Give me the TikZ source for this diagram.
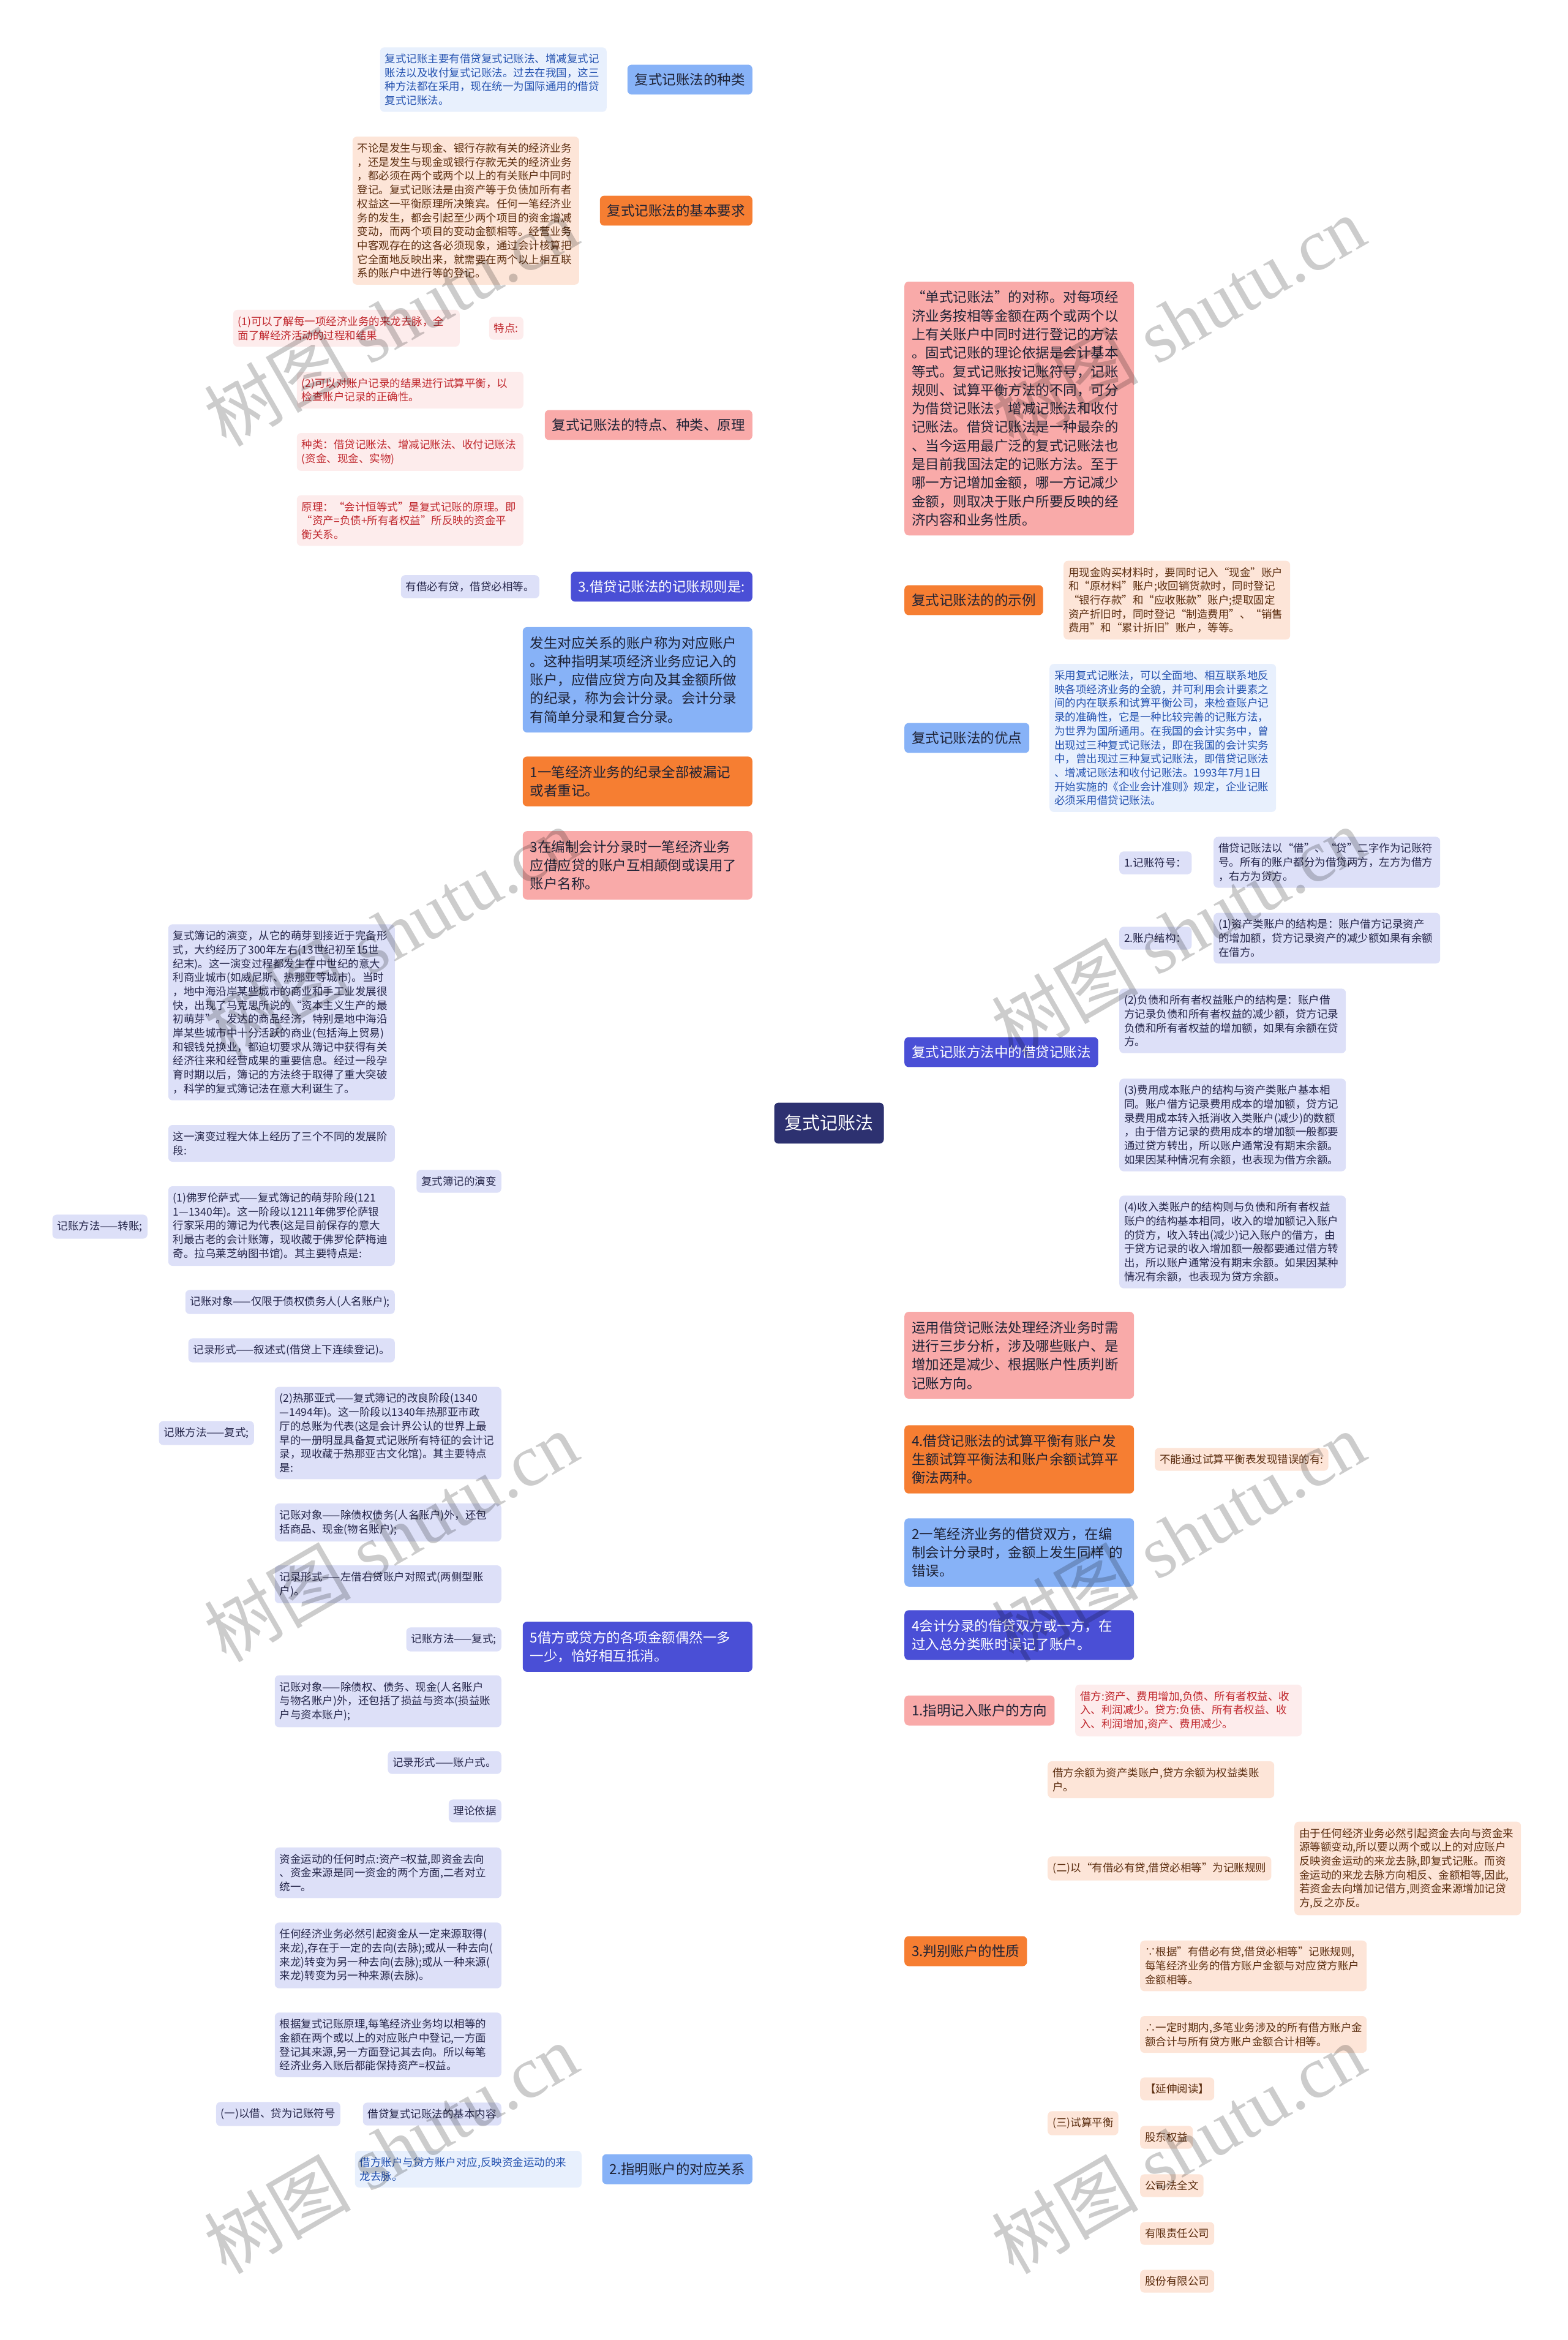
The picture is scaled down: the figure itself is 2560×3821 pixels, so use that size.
\documentclass[tikz,border=0pt]{standalone}
\usepackage{fontspec}
\setmainfont{Noto Sans CJK SC}
\newfontfamily\wmlatin{Liberation Serif}
\definecolor{cNavy}{HTML}{2D3170}
\definecolor{cDark}{HTML}{1E2235}
\definecolor{cBlue}{HTML}{87B2F7}
\definecolor{cBlueL}{HTML}{E8F0FD}
\definecolor{cBlueT}{HTML}{2452B0}
\definecolor{cBlueLn}{HTML}{7FA8EF}
\definecolor{cOr}{HTML}{F67E32}
\definecolor{cOrL}{HTML}{FDE5D8}
\definecolor{cOrT}{HTML}{5C2E10}
\definecolor{cOrLn}{HTML}{EC7A36}
\definecolor{cPk}{HTML}{F9AAA9}
\definecolor{cPkL}{HTML}{FDECEC}
\definecolor{cPkT}{HTML}{C0272D}
\definecolor{cPkLn}{HTML}{F2A2A2}
\definecolor{cVi}{HTML}{4A4FD6}
\definecolor{cViL}{HTML}{DDE0F8}
\definecolor{cViT}{HTML}{25264A}
\definecolor{cViLn}{HTML}{3E43B5}
\newcommand\fsS{\fontsize{17.5pt}{22.7pt}\selectfont}
\newcommand\fsL{\fontsize{22.5pt}{30.3pt}\selectfont}
\newcommand\fsC{\fontsize{29pt}{34pt}\selectfont}
\newcommand\fsW{\fontsize{120pt}{120pt}\selectfont}
\pgfdeclarelayer{bg}\pgfdeclarelayer{fg}\pgfsetlayers{bg,main,fg}
\tikzset{
  box/.style={rounded corners=7pt, align=left, draw=none},
  sm/.style={box, font=\fsS, inner xsep=8pt, inner ysep=10.5pt},
  smw/.style={sm, text width=354pt},
  lg/.style={box, font=\fsL, inner xsep=12pt, inner ysep=14pt},
  lgw/.style={box, font=\fsL, inner xsep=12pt, inner ysep=15pt, text width=351pt},
  mBlue/.style={fill=cBlue, text=cDark},
  mOr/.style={fill=cOr, text=cDark},
  mPk/.style={fill=cPk, text=cDark},
  mVi/.style={fill=cVi, text=white},
  cBl/.style={fill=cBlueL, text=cBlueT},
  cO/.style={fill=cOrL, text=cOrT},
  cP/.style={fill=cPkL, text=cPkT},
  cV/.style={fill=cViL, text=cViT},
  conn/.style={line width=3pt, rounded corners=10pt},
  sconn/.style={line width=2.5pt, rounded corners=8pt},
  wm/.style={rotate=30, text=black, text opacity=0.2, font=\fsW, inner sep=0pt}
}
\begin{document}
\begin{tikzpicture}[x=1pt,y=-1pt]
\fill[white] (0,0) rectangle (2560,3821);
\useasboundingbox (0,0) rectangle (2560,3821);

% center
\node[box, fill=cNavy, text=white, font=\fsC, inner xsep=17pt, inner ysep=20pt] (C) at (1354,1834) {复式记账法};

% ---------- left side ----------
\node[lg, mBlue, anchor=east] (L1) at (1229,130) {复式记账法的种类};
\node[smw, cBl, anchor=east] (L1c) at (991,130) {复式记账主要有借贷复式记账法、增减复式记\\账法以及收付复式记账法。过去在我国，这三\\种方法都在采用，现在统一为国际通用的借贷\\复式记账法。};

\node[lg, mOr, anchor=east] (L2) at (1229,344) {复式记账法的基本要求};
\node[smw, cO, anchor=east] (L2c) at (946,344) {不论是发生与现金、银行存款有关的经济业务\\，还是发生与现金或银行存款无关的经济业务\\，都必须在两个或两个以上的有关账户中同时\\登记。复式记账法是由资产等于负债加所有者\\权益这一平衡原理所决策宾。任何一笔经济业\\务的发生，都会引起至少两个项目的资金增减\\变动，而两个项目的变动金额相等。经营业务\\中客观存在的这各必须现象，通过会计核算把\\它全面地反映出来，就需要在两个以上相互联\\系的账户中进行等的登记。};

\node[lg, mPk, anchor=east] (L3) at (1229,694) {复式记账法的特点、种类、原理};
\node[sm, cP, anchor=east] (T0) at (855,536) {特点:};
\node[smw, cP, anchor=east] (T1) at (751,536) {(1)可以了解每一项经济业务的来龙去脉，全\\面了解经济活动的过程和结果};
\node[smw, cP, anchor=east] (T2) at (855,637) {(2)可以对账户记录的结果进行试算平衡，以\\检查账户记录的正确性。};
\node[smw, cP, anchor=east] (T3) at (855,738) {种类：借贷记账法、增减记账法、收付记账法\\(资金、现金、实物)};
\node[smw, cP, anchor=east] (T4) at (855,850) {原理：“会计恒等式”是复式记账的原理。即\\“资产=负债+所有者权益”所反映的资金平\\衡关系。};

\node[lg, mVi, anchor=east] (L4) at (1229,958) {3.借贷记账法的记账规则是:};
\node[sm, cV, anchor=east] (L4c) at (881,958) {有借必有贷，借贷必相等。};

\node[lgw, mBlue, anchor=east] (L5) at (1229,1110) {发生对应关系的账户称为对应账户\\。这种指明某项经济业务应记入的\\账户，应借应贷方向及其金额所做\\的纪录，称为会计分录。会计分录\\有简单分录和复合分录。};
\node[lgw, mOr, anchor=east] (L6) at (1229,1276) {1一笔经济业务的纪录全部被漏记\\或者重记。};
\node[lgw, mPk, anchor=east] (L7) at (1229,1413) {3在编制会计分录时一笔经济业务\\应借应贷的账户互相颠倒或误用了\\账户名称。};

\node[lgw, mVi, anchor=east] (L8) at (1229,2689) {5借方或贷方的各项金额偶然一多\\一少，恰好相互抵消。};
\node[sm, cV, anchor=east] (F1) at (819,1929) {复式簿记的演变};
\node[smw, cV, anchor=east] (H1) at (645,1653) {复式簿记的演变，从它的萌芽到接近于完备形\\式，大约经历了300年左右(13世纪初至15世\\纪末)。这一演变过程都发生在中世纪的意大\\利商业城市(如威尼斯、热那亚等城市)。当时\\，地中海沿岸某些城市的商业和手工业发展很\\快，出现了马克思所说的“资本主义生产的最\\初萌芽”。发达的商品经济，特别是地中海沿\\岸某些城市中十分活跃的商业(包括海上贸易)\\和银钱兑换业，都迫切要求从簿记中获得有关\\经济往来和经营成果的重要信息。经过一段孕\\育时期以后，簿记的方法终于取得了重大突破\\，科学的复式簿记法在意大利诞生了。};
\node[smw, cV, anchor=east] (H2) at (645,1867) {这一演变过程大体上经历了三个不同的发展阶\\段:};
\node[smw, cV, anchor=east] (H3) at (645,2002) {(1)佛罗伦萨式——复式簿记的萌芽阶段(121\\1—1340年)。这一阶段以1211年佛罗伦萨银\\行家采用的簿记为代表(这是目前保存的意大\\利最古老的会计账簿，现收藏于佛罗伦萨梅迪\\奇。拉乌莱芝纳图书馆)。其主要特点是:};
\node[sm, cV, anchor=east] (H3c) at (241,2003) {记账方法——转账;};
\node[sm, cV, anchor=east] (H4) at (645,2126) {记账对象——仅限于债权债务人(人名账户);};
\node[sm, cV, anchor=east] (H5) at (645,2205) {记录形式——叙述式(借贷上下连续登记)。};
\node[smw, cV, anchor=east] (F2) at (819,2340) {(2)热那亚式——复式簿记的改良阶段(1340\\—1494年)。这一阶段以1340年热那亚市政\\厅的总账为代表(这是会计界公认的世界上最\\早的一册明显具备复式记账所有特征的会计记\\录，现收藏于热那亚古文化馆)。其主要特点\\是:};
\node[sm, cV, anchor=east] (F2c) at (415,2340) {记账方法——复式;};
\node[smw, cV, anchor=east] (F3) at (819,2486) {记账对象——除债权债务(人名账户)外，还包\\括商品、现金(物名账户);};
\node[smw, cV, anchor=east] (F4) at (819,2587) {记录形式——左借右贷账户对照式(两侧型账\\户)。};
\node[sm, cV, anchor=east] (F5) at (819,2677) {记账方法——复式;};
\node[smw, cV, anchor=east] (F6) at (819,2778) {记账对象——除债权、债务、现金(人名账户\\与物名账户)外，还包括了损益与资本(损益账\\户与资本账户);};
\node[sm, cV, anchor=east] (F7) at (819,2878) {记录形式——账户式。};
\node[sm, cV, anchor=east] (F8) at (819,2957) {理论依据};
\node[smw, cV, anchor=east] (F9) at (819,3058) {资金运动的任何时点:资产=权益,即资金去向\\、资金来源是同一资金的两个方面,二者对立\\统一。};
\node[smw, cV, anchor=east] (F10) at (819,3193) {任何经济业务必然引起资金从一定来源取得(\\来龙),存在于一定的去向(去脉);或从一种去向(\\来龙)转变为另一种去向(去脉);或从一种来源(\\来龙)转变为另一种来源(去脉)。};
\node[smw, cV, anchor=east] (F11) at (819,3339) {根据复式记账原理,每笔经济业务均以相等的\\金额在两个或以上的对应账户中登记,一方面\\登记其来源,另一方面登记其去向。所以每笔\\经济业务入账后都能保持资产=权益。};
\node[sm, cV, anchor=east] (F12) at (819,3452) {借贷复式记账法的基本内容};
\node[sm, cV, anchor=east] (F12c) at (556,3452) {(一)以借、贷为记账符号};

\node[lg, mBlue, anchor=east] (L9) at (1229,3542) {2.指明账户的对应关系};
\node[smw, cBl, anchor=east] (L9c) at (950,3542) {借方账户与贷方账户对应,反映资金运动的来\\龙去脉。};

% ---------- right side ----------
\node[lgw, mPk, anchor=west] (R1) at (1477,667) {“单式记账法”的对称。对每项经\\济业务按相等金额在两个或两个以\\上有关账户中同时进行登记的方法\\。固式记账的理论依据是会计基本\\等式。复式记账按记账符号，记账\\规则、试算平衡方法的不同，可分\\为借贷记账法，增减记账法和收付\\记账法。借贷记账法是一种最杂的\\、当今运用最广泛的复式记账法也\\是目前我国法定的记账方法。至于\\哪一方记增加金额，哪一方记减少\\金额，则取决于账户所要反映的经\\济内容和业务性质。};

\node[lg, mOr, anchor=west] (R2) at (1477,980) {复式记账法的的示例};
\node[smw, cO, anchor=west] (R2c) at (1737,980) {用现金购买材料时，要同时记入“现金”账户\\和“原材料”账户;收回销货款时，同时登记\\“银行存款”和“应收账款”账户;提取固定\\资产折旧时，同时登记“制造费用”、“销售\\费用”和“累计折旧”账户，等等。};

\node[lg, mBlue, anchor=west] (R3) at (1477,1205) {复式记账法的优点};
\node[smw, cBl, anchor=west] (R3c) at (1714,1205) {采用复式记账法，可以全面地、相互联系地反\\映各项经济业务的全貌，并可利用会计要素之\\间的内在联系和试算平衡公司，来检查账户记\\录的准确性，它是一种比较完善的记账方法，\\为世界为国所通用。在我国的会计实务中，曾\\出现过三种复式记账法，即在我国的会计实务\\中，曾出现过三种复式记账法，即借贷记账法\\、增减记账法和收付记账法。1993年7月1日\\开始实施的《企业会计准则》规定，企业记账\\必须采用借贷记账法。};

\node[lg, mVi, anchor=west] (R4) at (1477,1718) {复式记账方法中的借贷记账法};
\node[sm, cV, anchor=west] (G1) at (1828,1409) {1.记账符号：};
\node[smw, cV, anchor=west] (G1c) at (1982,1408) {借贷记账法以“借”、“贷”二字作为记账符\\号。所有的账户都分为借贷两方，左方为借方\\，右方为贷方。};
\node[sm, cV, anchor=west] (G2) at (1828,1532) {2.账户结构：};
\node[smw, cV, anchor=west] (G2c) at (1982,1532) {(1)资产类账户的结构是：账户借方记录资产\\的增加额，贷方记录资产的减少额如果有余额\\在借方。};
\node[smw, cV, anchor=west] (G3) at (1828,1667) {(2)负债和所有者权益账户的结构是：账户借\\方记录负债和所有者权益的减少额，贷方记录\\负债和所有者权益的增加额，如果有余额在贷\\方。};
\node[smw, cV, anchor=west] (G4) at (1828,1837) {(3)费用成本账户的结构与资产类账户基本相\\同。账户借方记录费用成本的增加额，贷方记\\录费用成本转入抵消收入类账户(减少)的数额\\，由于借方记录的费用成本的增加额一般都要\\通过贷方转出，所以账户通常没有期末余额。\\如果因某种情况有余额，也表现为借方余额。};
\node[smw, cV, anchor=west] (G5) at (1828,2028) {(4)收入类账户的结构则与负债和所有者权益\\账户的结构基本相同，收入的增加额记入账户\\的贷方，收入转出(减少)记入账户的借方，由\\于贷方记录的收入增加额一般都要通过借方转\\出，所以账户通常没有期末余额。如果因某种\\情况有余额，也表现为贷方余额。};

\node[lgw, mPk, anchor=west] (R5) at (1477,2213) {运用借贷记账法处理经济业务时需\\进行三步分析，涉及哪些账户、是\\增加还是减少、根据账户性质判断\\记账方向。};
\node[lgw, mOr, anchor=west] (R6) at (1477,2383) {4.借贷记账法的试算平衡有账户发\\生额试算平衡法和账户余额试算平\\衡法两种。};
\node[sm, cO, anchor=west] (R6c) at (1886,2383) {不能通过试算平衡表发现错误的有:};
\node[lgw, mBlue, anchor=west] (R7) at (1477,2535) {2一笔经济业务的借贷双方，在编\\制会计分录时，金额上发生同样~的\\错误。};
\node[lgw, mVi, anchor=west] (R8) at (1477,2670) {4会计分录的借贷双方或一方，在\\过入总分类账时误记了账户。};
\node[lg, mPk, anchor=west] (R9) at (1477,2793) {1.指明记入账户的方向};
\node[smw, cP, anchor=west] (R9c) at (1756,2793) {借方:资产、费用增加,负债、所有者权益、收\\入、利润减少。贷方:负债、所有者权益、收\\入、利润增加,资产、费用减少。};

\node[lg, mOr, anchor=west] (R10) at (1477,3186) {3.判别账户的性质};
\node[smw, cO, anchor=west] (K1) at (1711,2906) {借方余额为资产类账户,贷方余额为权益类账\\户。};
\node[sm, cO, anchor=west] (K2) at (1711,3051) {(二)以“有借必有贷,借贷必相等”为记账规则};
\node[smw, cO, anchor=west] (K2c) at (2114,3051) {由于任何经济业务必然引起资金去向与资金来\\源等额变动,所以要以两个或以上的对应账户\\反映资金运动的来龙去脉,即复式记账。而资\\金运动的来龙去脉方向相反、金额相等,因此,\\若资金去向增加记借方,则资金来源增加记贷\\方,反之亦反。};
\node[sm, cO, anchor=west] (K3) at (1711,3467) {(三)试算平衡};
\node[smw, cO, anchor=west] (M1) at (1862,3210) {∵根据”有借必有贷,借贷必相等”记账规则,\\每笔经济业务的借方账户金额与对应贷方账户\\金额相等。};
\node[smw, cO, anchor=west] (M2) at (1862,3322) {∴一定时期内,多笔业务涉及的所有借方账户金\\额合计与所有贷方账户金额合计相等。};
\node[sm, cO, anchor=west] (M3) at (1862,3411) {【延伸阅读】};
\node[sm, cO, anchor=west] (M4) at (1862,3490) {股东权益};
\node[sm, cO, anchor=west] (M5) at (1862,3569) {公司法全文};
\node[sm, cO, anchor=west] (M6) at (1862,3647) {有限责任公司};
\node[sm, cO, anchor=west] (M7) at (1862,3725) {股份有限公司};

% ---------- connectors ----------
\begin{pgfonlayer}{bg}
% left main
\draw[conn, cBlueLn] (C.west) -- ++(-22,0) |- (L1.east);
\draw[conn, cOrLn]   (C.west) -- ++(-22,0) |- (L2.east);
\draw[conn, cPkLn]   (C.west) -- ++(-22,0) |- (L3.east);
\draw[conn, cViLn]   (C.west) -- ++(-22,0) |- (L4.east);
\draw[conn, cBlueLn] (C.west) -- ++(-22,0) |- (L5.east);
\draw[conn, cOrLn]   (C.west) -- ++(-22,0) |- (L6.east);
\draw[conn, cPkLn]   (C.west) -- ++(-22,0) |- (L7.east);
\draw[conn, cBlueLn] (C.west) -- ++(-22,0) |- (L9.east);
\draw[conn, cViLn]   (C.west) -- ++(-22,0) |- (L8.east);
% right main
\draw[conn, cPkLn]   (C.east) -- ++(17,0) |- (R1.west);
\draw[conn, cOrLn]   (C.east) -- ++(17,0) |- (R2.west);
\draw[conn, cBlueLn] (C.east) -- ++(17,0) |- (R3.west);
\draw[conn, cViLn]   (C.east) -- ++(17,0) |- (R4.west);
\draw[conn, cOrLn]   (C.east) -- ++(17,0) |- (R10.west);
\draw[conn, cPkLn]   (C.east) -- ++(17,0) |- (R9.west);
\draw[conn, cViLn]   (C.east) -- ++(17,0) |- (R8.west);
\draw[conn, cBlueLn] (C.east) -- ++(17,0) |- (R7.west);
\draw[conn, cOrLn]   (C.east) -- ++(17,0) |- (R6.west);
\draw[conn, cPkLn]   (C.east) -- ++(17,0) |- (R5.west);
% left sub
\draw[sconn, cBlueLn] (L1.west) -- (L1.west -| L1c.east);
\draw[sconn, cOrLn] (L2.west) -- (L2.west -| L2c.east);
\foreach \n in {T0,T2,T3,T4}{\draw[sconn, cPkLn] (L3.west) -- ++(-17,0) |- (\n.east);}
\draw[sconn, cPkLn] (T0.west) -- (T0.west -| T1.east);
\draw[sconn, cViLn] (L4.west) -- (L4.west -| L4c.east);
\foreach \n in {F1,F2,F3,F4,F5,F6,F7,F8,F9,F10,F11,F12}{\draw[sconn, cViLn] (L8.west) -- ++(-18,0) |- (\n.east);}
\foreach \n in {H1,H2,H3,H4,H5}{\draw[sconn, cViLn] (F1.west) -- ++(-17,0) |- (\n.east);}
\draw[sconn, cViLn] (H3.west) -- (H3.west -| H3c.east);
\draw[sconn, cViLn] (F2.west) -- (F2.west -| F2c.east);
\draw[sconn, cViLn] (F12.west) -- (F12.west -| F12c.east);
\draw[sconn, cBlueLn] (L9.west) -- (L9.west -| L9c.east);
% right sub
\draw[sconn, cOrLn] (R2.east) -- (R2.east -| R2c.west);
\draw[sconn, cBlueLn] (R3.east) -- (R3.east -| R3c.west);
\foreach \n in {G1,G2,G3,G4,G5}{\draw[sconn, cViLn] (R4.east) -- ++(17,0) |- (\n.west);}
\draw[sconn, cViLn] (G1.east) -- (G1.east -| G1c.west);
\draw[sconn, cViLn] (G2.east) -- (G2.east -| G2c.west);
\draw[sconn, cOrLn] (R6.east) -- (R6.east -| R6c.west);
\draw[sconn, cPkLn] (R9.east) -- (R9.east -| R9c.west);
\foreach \n in {K1,K2,K3}{\draw[sconn, cOrLn] (R10.east) -- ++(18,0) |- (\n.west);}
\draw[sconn, cOrLn] (K2.east) -- (K2.east -| K2c.west);
\foreach \n in {M1,M2,M3,M4,M5,M6,M7}{\draw[sconn, cOrLn] (K3.east) -- ++(16,0) |- (\n.west);}
\end{pgfonlayer}

% ---------- watermarks ----------
\begin{pgfonlayer}{fg}
\foreach \x/\y [count=\i] in {638/524, 1924/524, 638/1522, 1924/1522, 638/2509, 1924/2509, 638/3508, 1924/3508}{
  \node[wm] (wm\i) at (\x,\y) {树图\hspace{30pt}{\wmlatin shutu.cn}};
}
\end{pgfonlayer}
\end{tikzpicture}
\end{document}
